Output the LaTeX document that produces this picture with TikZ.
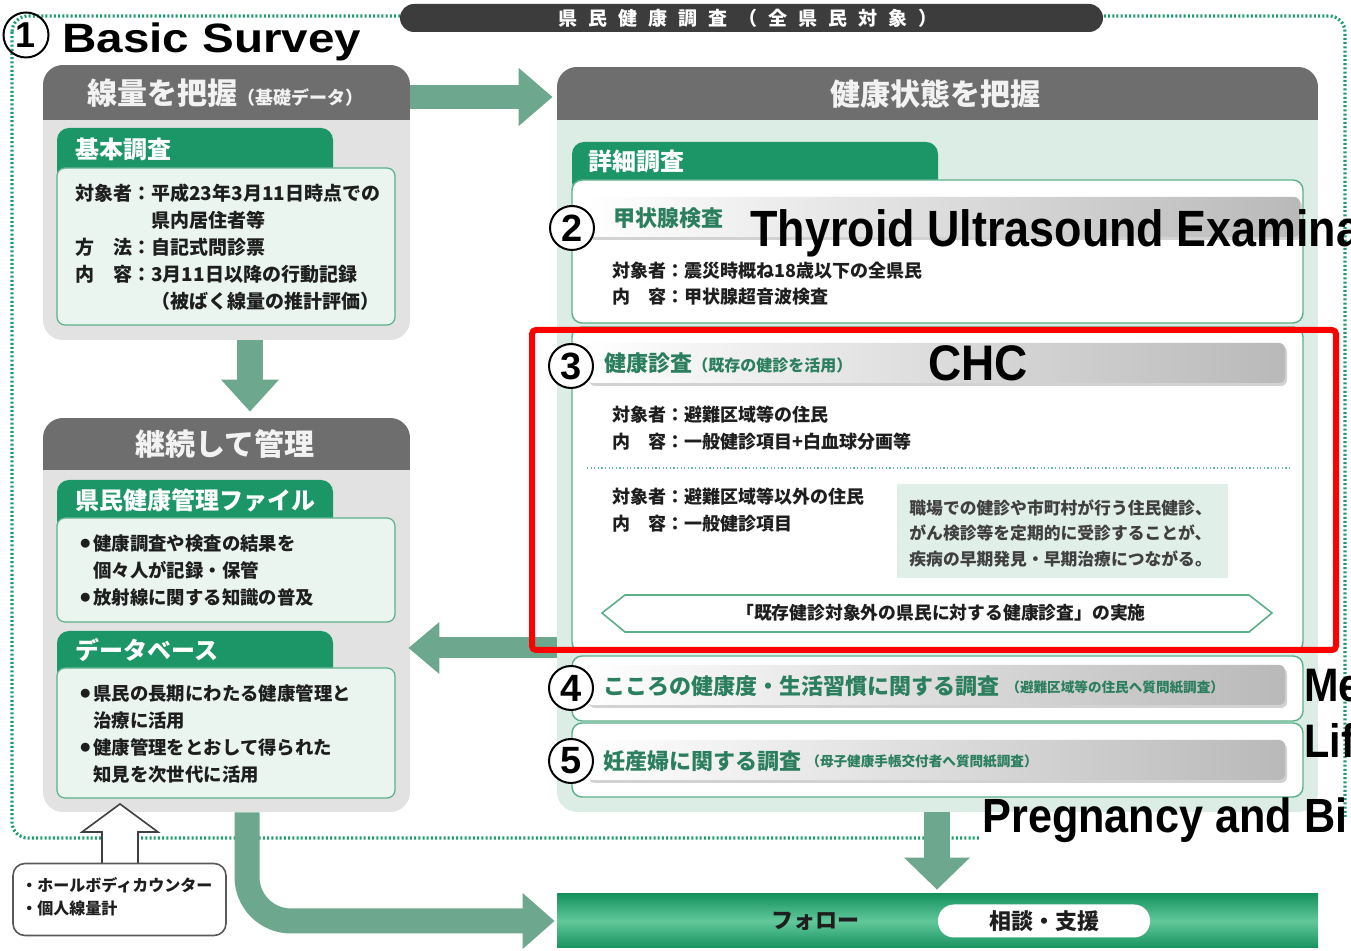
\documentclass[tikz,border=0pt]{standalone}
\usepackage{fontspec}
\setmainfont{Noto Sans CJK JP}
\newfontfamily\en{Liberation Sans}
\usetikzlibrary{arrows.meta,fit,calc}
\definecolor{hdr}{HTML}{6E6E6E}
\definecolor{tabg}{HTML}{1C9567}
\definecolor{mint}{HTML}{EAF5F0}
\definecolor{boxline}{HTML}{5BB08A}
\definecolor{pgray}{HTML}{E2E2E2}
\definecolor{rmint}{HTML}{DCEDE5}
\definecolor{arr}{HTML}{6DA88E}
\definecolor{dotg}{HTML}{1E9E6C}
\definecolor{titleg}{HTML}{2B7F5E}
\definecolor{txt}{HTML}{1E1E1E}
\definecolor{bannerc}{HTML}{3C3C3C}
\definecolor{notebox}{HTML}{E1EFE9}
\definecolor{bard}{HTML}{16925F}
\definecolor{barl}{HTML}{62C89A}
\newcommand\fz[2]{\fontsize{#1}{#2}\selectfont}
\newcommand\mypanel[6]{%
  \begin{scope}
    \clip[rounded corners=10pt] (#1,#2) rectangle (#3,#4);
    \fill[#6] (#1,#2) rectangle (#3,#4);
    \fill[hdr] (#1,#2) rectangle (#3,#5);
  \end{scope}}
\newcommand\bul{\makebox[6.5pt][l]{\raisebox{1.2pt}{\fz{5}{6}●}}}
\newcommand\bsp{\hspace{5.5pt}}
\begin{document}
\begin{tikzpicture}[x=0.5pt,y=-0.5pt,
  hdrt/.style={text=white!95!black, font=\fz{15}{18}\bfseries, inner sep=0},
  tabt/.style={text=white, font=\fz{12}{14}\bfseries, inner sep=0, anchor=west},
  body/.style={text=txt, font=\fz{9.5}{13.5}\bfseries, inner sep=0, anchor=north west, align=left},
  rtitle/.style={text=titleg, font=\fz{11}{13}\bfseries, inner sep=0, anchor=west},
  rsmall/.style={text=titleg, font=\fz{6.8}{8}\bfseries, inner sep=0, anchor=west},
  cbox/.style={draw=boxline, fill=mint, line width=0.6pt, rounded corners=4pt},
  wbox/.style={draw=boxline, fill=white, line width=0.7pt, rounded corners=5pt},
  tabf/.style={fill=tabg, rounded corners=6pt},
  bar/.style={left color=white, right color=gray!55, rounded corners=3pt},
  numc/.style={circle, draw=black, fill=white, line width=1pt, minimum size=22pt, inner sep=0, font=\en\fz{19}{19}\bfseries},
  fat/.style={draw=arr, line width=#1},
  dotline/.style={draw=dotg, line width=1.6pt, dash pattern=on 1pt off 1.1pt},
]
\useasboundingbox (0,0) rectangle (1351,951);
\fill[white] (0,0) rectangle (1351,951);

% outer dotted frame
\draw[dotline, rounded corners=8pt] (12,16) rectangle (1345,838);

% banner
\fill[bannerc, rounded corners=7pt] (400,4) rectangle (1103,32);
\node[text=white, font=\fz{9.5}{10}\bfseries, inner sep=0] (banner) at (748,18)
  {県\bsp 民\bsp 健\bsp 康\bsp 調\bsp 査\bsp （\bsp 全\bsp 県\bsp 民\bsp 対\bsp 象\bsp ）};

% title 1
\node[circle, draw=black, line width=1pt, minimum size=22.5pt, inner sep=0, font=\en\fz{18}{18}\bfseries] (n1) at (26,35) {1};
\node[inner sep=0, anchor=base west, font=\en\bfseries\fz{20.5}{22}] (bs) at (62,53) {\scalebox{1.16}[1]{Basic Survey}};

% ---------- left panel 1
\mypanel{43}{65}{410}{340}{120}{pgray}
\node[fit={(43,65) (410,340)}, inner sep=0] (p1) {};
\node[fit={(43,65) (410,120)}, inner sep=0] (p1h) {};
\node[hdrt, anchor=west] (t1) at (87,93) {線量を把握{\fz{9}{10}（基礎データ）}};
\fill[tabf] (57,182) -- (57,128) -- (333,128) -- (333,182) -- cycle;
\draw[cbox] (57,168) rectangle (395,325);
\node[tabt] (tab1) at (75,149) {基本調査};
\node[body] (b1) at (75,184) {対象者：平成23年3月11日時点での\\
\hspace*{4em}県内居住者等\\
方　法：自記式問診票\\
内　容：3月11日以降の行動記録\\
\hspace*{4em}（被ばく線量の推計評価）};

% ---------- left panel 2
\mypanel{43}{418}{410}{812}{470}{pgray}
\node[fit={(43,418) (410,812)}, inner sep=0] (p2) {};
\node[hdrt] (t2) at (225,444) {継続して管理};
\fill[tabf] (57,532) -- (57,480) -- (333,480) -- (333,532) -- cycle;
\draw[cbox] (57,518) rectangle (395,622);
\node[tabt] (tab2) at (75,500) {県民健康管理ファイル};
\node[body, font=\fz{9.2}{13.5}\bfseries] (b2) at (80,534) {\bul 健康調査や検査の結果を\\
\hspace*{6.5pt}個々人が記録・保管\\
\bul 放射線に関する知識の普及};
\fill[tabf] (57,682) -- (57,631) -- (333,631) -- (333,682) -- cycle;
\draw[cbox] (57,668) rectangle (395,798);
\node[tabt] (tab3) at (75,650) {データベース};
\node[body, font=\fz{9.2}{13.5}\bfseries] (b3) at (80,684) {\bul 県民の長期にわたる健康管理と\\
\hspace*{6.5pt}治療に活用\\
\bul 健康管理をとおして得られた\\
\hspace*{6.5pt}知見を次世代に活用};

% ---------- right panel
\mypanel{557}{67}{1318}{812}{120}{rmint}
\node[fit={(557,67) (1318,812)}, inner sep=0] (rp) {};
\node[fit={(557,67) (1318,120)}, inner sep=0] (rph) {};
\node[hdrt] (t3) at (935,94) {健康状態を把握};
\fill[tabf] (572,194) -- (572,142) -- (938,142) -- (938,194) -- cycle;
\node[tabt] (tab4) at (588,161) {詳細調査};

% box 2
\draw[wbox] (572,180) rectangle (1303,323);
\fill[gray!35, rounded corners=3pt] (589,200) rectangle (1302,240);
\shade[bar] (587,197) rectangle (1300,237);
\node[numc] (c2) at (572,228) {2};
\node[rtitle] (r2) at (613,218) {甲状腺検査};
\node[body, font=\fz{9}{13}\bfseries] (b4) at (612,262) {対象者：震災時概ね18歳以下の全県民\\
内　容：甲状腺超音波検査};

% box 3
\draw[wbox] (572,327) rectangle (1303,652);
\fill[gray!35, rounded corners=3pt] (589,346) rectangle (1287,386);
\shade[bar] (587,343) rectangle (1285,383);
\node[numc] (c3) at (571,366) {3};
\node[rtitle] (r3) at (604,363) {健康診査{\fz{8}{9}（既存の健診を活用）}};
\node[body, font=\fz{9}{13.5}\bfseries] (b5) at (612,406) {対象者：避難区域等の住民\\
内　容：一般健診項目+白血球分画等};
\coordinate (sepl) at (587,468);
\coordinate (sepr) at (1290,468);
\draw[draw=dotg!70, line width=0.7pt, dash pattern=on 0.6pt off 1.2pt] (sepl) -- (sepr);
\node[body, font=\fz{9}{13.5}\bfseries] (b6) at (612,488) {対象者：避難区域等以外の住民\\
内　容：一般健診項目};
\fill[notebox] (897,484) rectangle (1228,578);
\node[body, font=\fz{8.4}{12.75}\bfseries, text=txt!85] (b7) at (909,499) {職場での健診や市町村が行う住民健診、\\
がん検診等を定期的に受診することが、\\
疾病の早期発見・早期治療につながる。};
\draw[draw=boxline, fill=white, line width=0.8pt] (602,613) -- (625,595) -- (1249,595) -- (1272,613) -- (1249,632) -- (625,632) -- cycle;
\node[text=txt, font=\fz{8.9}{10}\bfseries, inner sep=0] (hex) at (941,613) {「既存健診対象外の県民に対する健康診査」の実施};

% box 4
\draw[wbox] (572,656) rectangle (1303,721);
\fill[gray!35, rounded corners=3pt] (589,668) rectangle (1287,708);
\shade[bar] (587,665) rectangle (1285,705);
\node[numc] (c4) at (571,688) {4};
\node[rtitle] (r4) at (603,686) {こころの健康度・生活習慣に関する調査};
\node[rsmall] (r4s) at (1006,687) {（避難区域等の住民へ質問紙調査）};

% box 5
\draw[wbox] (572,723) rectangle (1303,797);
\fill[gray!35, rounded corners=3pt] (589,743) rectangle (1287,783);
\shade[bar] (587,740) rectangle (1285,780);
\node[numc] (c5) at (571,761) {5};
\node[rtitle] (r5) at (603,761) {妊産婦に関する調査};
\node[rsmall] (r5s) at (806,762) {（母子健康手帳交付者へ質問紙調査）};

% ---------- bottom bar
\shade[top color=bard, bottom color=bard, middle color=barl] (557,894) rectangle (1318,948);
\node[fit={(557,894) (1318,948)}, inner sep=0] (bot) {};
\node[text=txt, font=\fz{11}{12}\bfseries, inner sep=0] (fo) at (815,921) {フォロー};
\node[fill=white, rounded corners=8pt, minimum width=106pt, minimum height=16.5pt, inner sep=0, text=txt, font=\fz{11}{12}\bfseries] (sd) at (1044,921) {相談・支援};

% ---------- whole body counter box with hollow arrow
\draw[draw=black!75, fill=white, line width=0.8pt, line join=miter] (102,866) -- (102,832) -- (82,832) -- (120,804) -- (158,832) -- (138,832) -- (138,866);
\node[draw=black!65, fill=white, line width=0.8pt, rounded corners=6pt, minimum width=106.5pt, minimum height=36pt, inner sep=0] (wb) at (119.5,899.5) {};
\node[body, font=\fz{8}{11.5}\bfseries] (wbt) at (21,877) {・ホールボディカウンター\\・個人線量計};

% ---------- connectors (fat arrows)
\coordinate (ya) at (0,97);
\coordinate (xa) at (250,0);
\coordinate (yl) at (0,648);
\coordinate (xr) at (937,0);
\coordinate (xc) at (247,0);
\draw[fat=12pt, -{Triangle[length=17pt, width=28pt]}, shorten >=2pt] (p1h.east |- ya) -- (rph.west |- ya);
\draw[fat=13pt, -{Triangle[length=16pt, width=28pt]}, shorten >=3pt] (p1.south -| xa) -- (p2.north -| xa);
\draw[fat=10.5pt, -{Triangle[length=15.5pt, width=25pt]}, shorten >=-1pt] (rp.west |- yl) -- (p2.east |- yl);
\draw[fat=13pt, -{Triangle[length=16pt, width=32pt]}, shorten >=2pt] (rp.south -| xr) -- (bot.north -| xr);
\draw[fat=12.5pt, -{Triangle[length=16pt, width=27pt]}, rounded corners=22pt, shorten >=1pt] (p2.south -| xc) |- (bot.west);

% ---------- English labels
\node[inner sep=0, anchor=base west, font=\en\bfseries\fz{25.5}{27}] (thy) at (750,247) {\scalebox{0.88}[1]{Thyroid Ultrasound Examina}};
\node[inner sep=0, anchor=base west, font=\en\bfseries\fz{25}{27}] (chc) at (928,381) {\scalebox{0.92}[1]{CHC}};
\node[inner sep=0, anchor=base west, font=\en\bfseries\fz{23.5}{25}] (me) at (1304,702) {\scalebox{0.88}[1]{Me}};
\node[inner sep=0, anchor=base west, font=\en\bfseries\fz{23.5}{25}] (lif) at (1304,758) {\scalebox{0.88}[1]{Lif}};
\fill[white] (980,818) rectangle (1351,851);
\node[inner sep=0, anchor=base west, font=\en\bfseries\fz{24}{26}] (preg) at (982,833) {\scalebox{0.9}[1]{Pregnancy and Bi}};

% ---------- red highlight
\draw[draw=red, line width=3pt, rounded corners=2pt] (532,330) rectangle (1336,650);
\end{tikzpicture}
\end{document}
